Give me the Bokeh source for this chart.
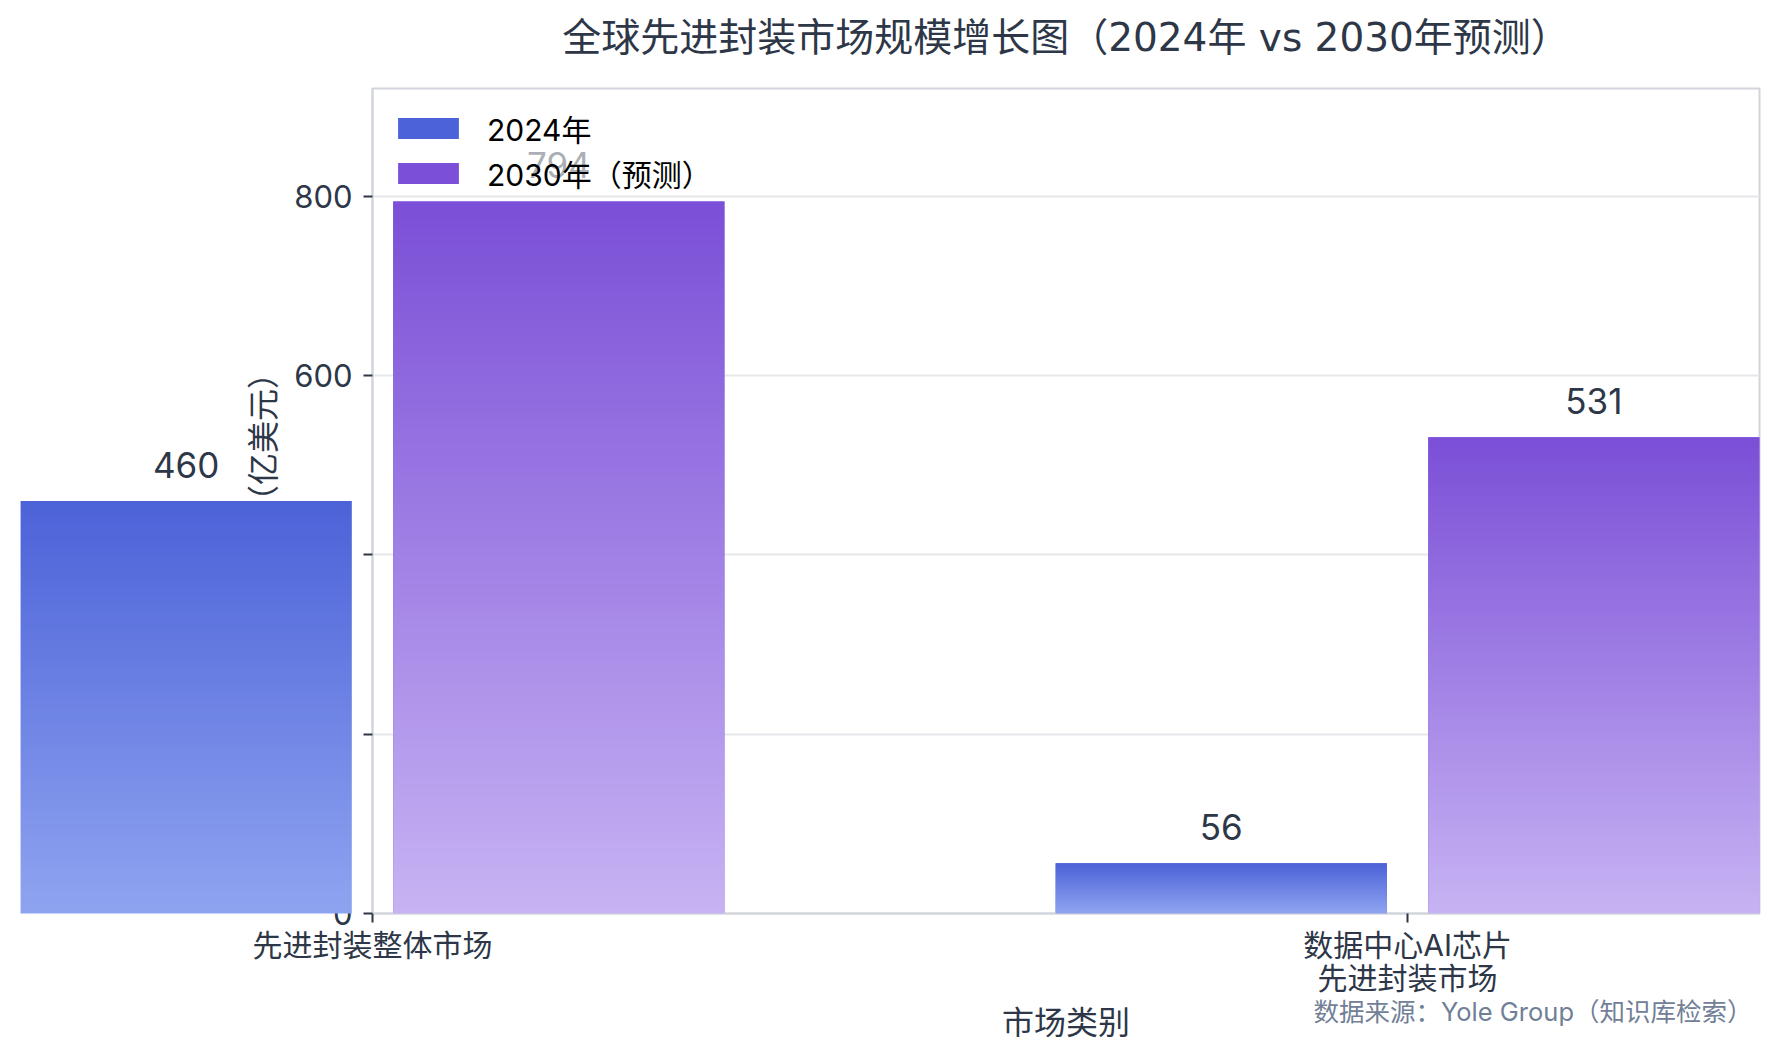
import numpy as np
from bokeh.plotting import figure
from bokeh.models import (Range1d, FixedTicker, ColumnDataSource, Legend, LegendItem,
                          Title)
from bokeh.core.properties import value
from bokeh.embed import file_html
from bokeh.resources import INLINE

# ---------------- data ----------------
categories = ["先进封装整体市场", "数据中心AI芯片\n先进封装市场"]
series_names = ["2024年", "2030年（预测）"]
values_2024 = [460, 56]
values_2030 = [794, 531]
y_ticks = [0, 200, 400, 600, 800]

title_text = "全球先进封装市场规模增长图（2024年 vs 2030年预测）"
x_title = "市场类别"
y_title = "市场规模（亿美元）"
source_note = "数据来源：Yole Group（知识库检索）"

# ---------------- style ----------------
FONT = "Inter, Noto Sans CJK SC, sans-serif"
TITLE_FONT = "DejaVu Sans, Noto Sans CJK SC, sans-serif"
TEXT = "#2d3748"
top_colors = ["#4c62d8", "#7b4fd7"]
bottom_colors = ["#8fa4f0", "#c7b3f3"]
offsets = [-0.18, 0.18]
bar_w = 0.32

W, H = 1777, 1060
BL, BR, BT, BB = 372, 18, 88, 147
X_END, Y_END = 1.34, 920
frame_w, frame_h = W - BL - BR, H - BT - BB
px_x = X_END / frame_w      # data units per pixel
px_y = Y_END / frame_h


def hex_rgb(h):
    h = h.lstrip("#")
    return np.array([int(h[i:i + 2], 16) for i in (0, 2, 4)], dtype=float)


def gradient(top_hex, bottom_hex, n=256):
    t = np.linspace(0.0, 1.0, n)[:, None]          # row 0 = bottom of bar
    top, bot = hex_rgb(top_hex), hex_rgb(bottom_hex)
    rgb = np.round(bot + (top - bot) * t).astype(np.uint8)
    img = np.empty((n, 2), dtype=np.uint32)
    view = img.view(dtype=np.uint8).reshape((n, 2, 4))
    view[:, :, 0:3] = rgb[:, None, :]
    view[:, :, 3] = 255
    return img


p = figure(width=W, height=H, output_backend="svg", toolbar_location=None,
           x_range=Range1d(0, X_END), y_range=Range1d(0, Y_END),
           min_border_left=BL, min_border_right=BR, min_border_top=BT,
           min_border_bottom=BB, background_fill_color="white",
           border_fill_color="white", title=title_text)
p.outline_line_color = "#d1d5db"
p.outline_line_width = 2

p.title.align = "center"
p.title.text_font = TITLE_FONT
p.title.text_font_size = "39px"
p.title.text_font_style = "normal"
p.title.text_color = TEXT
p.title.standoff = 10
# thin spacer between the title and the plot frame
p.add_layout(Title(text=" ", text_font_size="1px", standoff=21), "above")

# axes
xaxis = p.xaxis[0]
yaxis = p.yaxis[0]
xaxis.ticker = FixedTicker(ticks=list(range(len(categories))))
xaxis.major_label_overrides = {i: c for i, c in enumerate(categories)}
yaxis.ticker = FixedTicker(ticks=y_ticks)
p.ygrid.ticker = FixedTicker(ticks=y_ticks)
p.xgrid.visible = False
p.ygrid.grid_line_color = "#e5e7eb"
p.ygrid.grid_line_width = 2

for ax in (xaxis, yaxis):
    ax.axis_line_color = "#d1d5db"
    ax.axis_line_width = 2
    ax.major_tick_line_color = TEXT
    ax.major_tick_line_width = 2
    ax.major_tick_out = 9
    ax.major_tick_in = 0
    ax.minor_tick_line_color = None
    ax.major_label_text_font = FONT
    ax.major_label_text_font_size = "31px"
    ax.major_label_text_color = TEXT
    ax.axis_label_text_font = FONT
    ax.axis_label_text_font_size = "32px"
    ax.axis_label_text_color = TEXT
    ax.axis_label_text_font_style = "normal"

xaxis.axis_label = x_title
xaxis.major_label_text_font_size = "30px"
xaxis.major_label_text_line_height = 0.92
xaxis.major_label_standoff = 4
xaxis.axis_label_standoff = 4
yaxis.axis_label = y_title
yaxis.major_label_standoff = 11
yaxis.axis_label_standoff = 7

# bars: solid base (legend swatch) + gradient fill drawn unclipped on top
legend_items = []
label_x, label_y, label_t = [], [], []
for k, (name, vals) in enumerate(zip(series_names, [values_2024, values_2030])):
    xs = [i + offsets[k] for i in range(len(categories))]
    src = ColumnDataSource(dict(x=xs, top=vals))
    r = p.vbar(x="x", top="top", width=bar_w, source=src,
               fill_color=top_colors[k], line_color=None)
    imgs = [gradient(top_colors[k], bottom_colors[k]) for _ in vals]
    p.image_rgba(image=imgs, x=[x - bar_w / 2 for x in xs], y=[0] * len(vals),
                 dw=[bar_w] * len(vals), dh=vals, level="overlay")
    legend_items.append(LegendItem(label=name, renderers=[r]))
    label_x += xs
    label_y += vals
    label_t += [str(v) for v in vals]

# value labels (unclipped, below the legend)
lab_src = ColumnDataSource(dict(x=label_x, y=label_y, t=label_t))
p.text(x="x", y="y", text="t", source=lab_src, y_offset=-36,
       text_align="center", text_baseline="alphabetic",
       text_font=value(FONT), text_font_size=value("35px"),
       text_color=TEXT, level="annotation")

legend = Legend(items=legend_items, location="top_left", orientation="vertical",
                glyph_width=76, glyph_height=26, label_standoff=21, spacing=1,
                padding=0, margin=18, background_fill_color="white",
                background_fill_alpha=0.6, border_line_color=None,
                label_text_font=FONT, label_text_font_size="30px",
                label_text_color="black")
legend.level = "overlay"
p.add_layout(legend)

# source note, bottom right under the frame
p.text(x=[X_END - 7 * px_x], y=[-98 * px_y], text=[source_note],
       text_align="right", text_baseline="middle",
       text_font=value(FONT), text_font_size=value("25.5px"),
       text_color="#718096", level="annotation")

with open("out.html", "w", encoding="utf-8") as f:
    f.write(file_html(p, INLINE))
